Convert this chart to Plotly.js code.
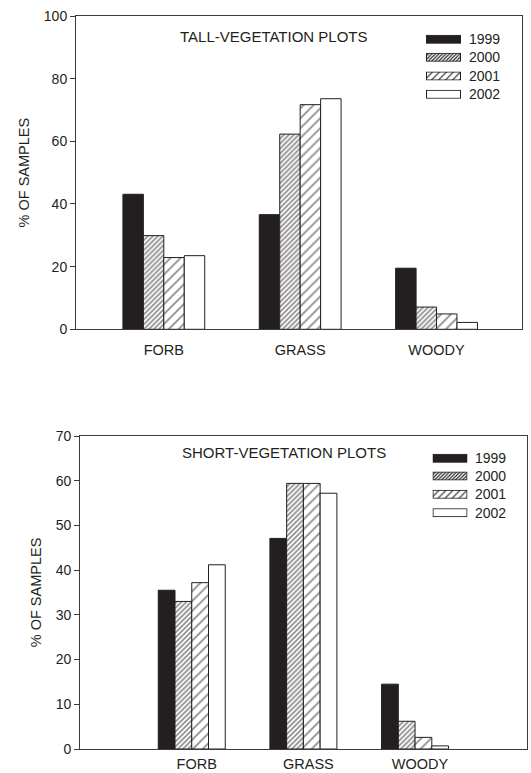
<!DOCTYPE html>
<html>
<head>
<meta charset="utf-8">
<script src="https://cdn.plot.ly/plotly-3.0.1.min.js"></script>
<style>
html,body{margin:0;padding:0;background:#fff;}
#chart{width:531px;height:773px;}
</style>
</head>
<body>
<div id="chart"></div>
<script>
var categories = ["FORB", "GRASS", "WOODY"];
var years = ["1999", "2000", "2001", "2002"];

var tall1999 = [43.1, 36.6, 19.5];
var tall2000 = [29.9, 62.3, 7.1];
var tall2001 = [22.9, 71.7, 4.9];
var tall2002 = [23.5, 73.6, 2.2];

var short1999 = [35.5, 47.1, 14.5];
var short2000 = [33.0, 59.4, 6.2];
var short2001 = [37.2, 59.4, 2.6];
var short2002 = [41.2, 57.2, 0.7];

var tallTitle = "TALL-VEGETATION PLOTS";
var shortTitle = "SHORT-VEGETATION PLOTS";
var yTitle = "% OF SAMPLES";

var INK = "#231f20";
var AXIS = "#3a3a3a";
var FONT = "Liberation Sans, Arial, sans-serif";

var styles = [
  {color: INK, pattern: {shape: ""}, hatch: 0},
  {color: "#fff", pattern: {shape: "/", fgcolor: INK, bgcolor: "#fff", size: 3.5, solidity: 0.5, fillmode: "overlay"}, hatch: 3.5},
  {color: "#fff", pattern: {shape: "/", fgcolor: INK, bgcolor: "#fff", size: 7, solidity: 0.26, fillmode: "overlay"}, hatch: 7},
  {color: "#fff", pattern: {shape: ""}, hatch: 0}
];

function makeTraces(series, xa, ya) {
  return series.map(function (vals, i) {
    return {
      type: "bar",
      x: categories,
      y: vals,
      name: years[i],
      xaxis: xa,
      yaxis: ya,
      showlegend: false,
      marker: {
        color: styles[i].color,
        pattern: styles[i].pattern,
        line: {color: INK, width: 1}
      },
      hoverinfo: "x+y+name"
    };
  });
}

var data = []
  .concat(makeTraces([tall1999, tall2000, tall2001, tall2002], "x", "y"))
  .concat(makeTraces([short1999, short2000, short2001, short2002], "x2", "y2"));

var W = 531, H = 773;
function px(x) { return x / W; }
function py(y) { return (H - y) / H; }

// legend swatch as an SVG image (wide swatch like the original)
function swatchSVG(i, w, h) {
  var s = styles[i];
  var defs = "", fill = s.color;
  if (s.hatch) {
    var S = s.hatch;
    defs = "<defs><pattern id='p' width='" + S + "' height='" + S + "' patternUnits='userSpaceOnUse'>" +
      "<path d='M0," + S + " L" + S + ",0 M-1,1 L1,-1 M" + (S - 1) + "," + (S + 1) + " L" + (S + 1) + "," + (S - 1) +
      "' stroke='" + INK + "' stroke-width='1.1'/></pattern></defs>";
    fill = "url(#p)";
  }
  var svg = "<svg xmlns='http://www.w3.org/2000/svg' width='" + w + "' height='" + h + "' viewBox='0 0 " + w + " " + h + "'>" +
    defs + "<rect x='0.5' y='0.5' width='" + (w - 1) + "' height='" + (h - 1) + "' fill='" + fill +
    "' stroke='" + INK + "' stroke-width='1'/></svg>";
  return "data:image/svg+xml;charset=utf-8," + encodeURIComponent(svg);
}

var images = [], annotations = [];
function addLegend(xSw, xTxt, rows) {
  years.forEach(function (yr, i) {
    var w = 35, h = 9;
    images.push({
      source: swatchSVG(i, w, h),
      xref: "paper", yref: "paper",
      x: px(xSw), y: py(rows[i] - h / 2),
      sizex: w / W, sizey: h / H,
      sizing: "stretch", xanchor: "left", yanchor: "top", layer: "above"
    });
    annotations.push({
      text: yr, xref: "paper", yref: "paper",
      x: px(xTxt), y: py(rows[i]), xanchor: "left", yanchor: "middle",
      showarrow: false, font: {family: FONT, size: 14, color: INK}
    });
  });
}
addLegend(426, 467, [39.3, 57.3, 76, 94.3]);
addLegend(432.5, 473, [458.3, 476, 494.3, 512.7]);

annotations.push(
  {text: tallTitle, xref: "paper", yref: "paper", x: px(273.5), y: py(37), showarrow: false,
   xanchor: "center", yanchor: "middle", font: {family: FONT, size: 15, color: INK}},
  {text: shortTitle, xref: "paper", yref: "paper", x: px(284), y: py(452), showarrow: false,
   xanchor: "center", yanchor: "middle", font: {family: FONT, size: 15, color: INK}}
);

var axisCommon = {
  showgrid: false,
  zeroline: false,
  showline: true,
  linecolor: AXIS,
  linewidth: 1,
  mirror: true
};

var layout = {
  width: W,
  height: H,
  margin: {l: 0, r: 0, t: 0, b: 0},
  paper_bgcolor: "#fff",
  plot_bgcolor: "#fff",
  barmode: "group",
  bargap: 0.4,
  bargroupgap: 0,
  showlegend: false,
  font: {family: FONT, color: INK},
  xaxis: Object.assign({}, axisCommon, {
    domain: [px(76), px(522.3)],
    anchor: "y",
    type: "category",
    range: [-0.644, 2.629],
    ticks: "",
    ticklabelstandoff: 7,
    tickfont: {family: FONT, size: 14.5, color: INK}
  }),
  yaxis: Object.assign({}, axisCommon, {
    domain: [py(329.3), py(16)],
    anchor: "x",
    range: [0, 100],
    dtick: 20,
    ticks: "outside",
    ticklen: 5,
    tickcolor: AXIS,
    tickfont: {family: FONT, size: 14, color: INK},
    title: {text: yTitle, font: {family: FONT, size: 14.5, color: INK}, standoff: 10}
  }),
  xaxis2: Object.assign({}, axisCommon, {
    domain: [px(80.1), px(526.7)],
    anchor: "y2",
    type: "category",
    range: [-1, 3],
    ticks: "",
    ticklabelstandoff: 2,
    ticklabelshift: 5,
    tickfont: {family: FONT, size: 14.5, color: INK}
  }),
  yaxis2: Object.assign({}, axisCommon, {
    domain: [py(749), py(436)],
    anchor: "x2",
    range: [0, 70],
    dtick: 10,
    ticks: "outside",
    ticklen: 5,
    tickcolor: AXIS,
    tickfont: {family: FONT, size: 14, color: INK},
    title: {text: yTitle, font: {family: FONT, size: 14.5, color: INK}, standoff: 10}
  }),
  images: images,
  annotations: annotations
};

Plotly.newPlot("chart", data, layout, {displayModeBar: false, staticPlot: true});
</script>
</body>
</html>
